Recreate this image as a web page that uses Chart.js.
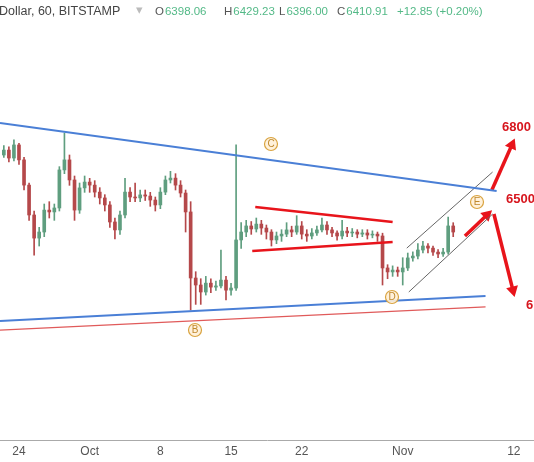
<!DOCTYPE html>
<html>
<head>
<meta charset="utf-8">
<script src="https://cdn.jsdelivr.net/npm/chart.js@4"></script>
<style>
  html, body { margin: 0; padding: 0; background: #fff; }
  #wrap { width: 534px; height: 462px; }
</style>
</head>
<body>
<div id="wrap"><canvas id="c" width="534" height="462"></canvas></div>
<script>
// --- Data (hourly candles sampled every half day, day 0 = Sep 24) ---
const firstDay = -1.5;
const stepDays = 0.5;
const firstOpen = 6680;
const closes = [6701, 6667, 6723, 6659, 6551, 6423, 6324, 6350, 6444, 6436,
  6453, 6616, 6659, 6573, 6444, 6539, 6564, 6551, 6521, 6496,
  6466, 6393, 6359, 6423, 6521, 6500, 6496, 6509, 6504, 6487,
  6466, 6521, 6573, 6581, 6551, 6517, 6436, 6153, 6123, 6093,
  6131, 6114, 6119, 6144, 6101, 6110, 6316, 6350, 6376, 6363,
  6384, 6367, 6350, 6316, 6333, 6341, 6359, 6350, 6376, 6341,
  6333, 6346, 6359, 6380, 6359, 6346, 6333, 6354, 6346, 6350,
  6341, 6346, 6337, 6341, 6333, 6196, 6179, 6187, 6179, 6196,
  6239, 6247, 6273, 6290, 6281, 6264, 6256, 6264, 6376, 6350];
const highs = [6720, 6715, 6745, 6730, 6670, 6560, 6440, 6370, 6470, 6480,
  6470, 6630, 6774, 6680, 6590, 6560, 6590, 6580, 6570, 6540,
  6510, 6480, 6410, 6440, 6580, 6540, 6560, 6530, 6530, 6520,
  6500, 6540, 6590, 6610, 6600, 6570, 6530, 6480, 6180, 6150,
  6160, 6150, 6140, 6273, 6160, 6130, 6723, 6390, 6400, 6395,
  6410, 6400, 6380, 6360, 6350, 6360, 6390, 6375, 6420, 6395,
  6360, 6365, 6375, 6410, 6395, 6370, 6355, 6400, 6370, 6365,
  6360, 6360, 6360, 6355, 6350, 6345, 6210, 6205, 6200, 6240,
  6260, 6265, 6300, 6310, 6300, 6290, 6275, 6280, 6414, 6390];
const lows = [6670, 6650, 6655, 6640, 6530, 6400, 6251, 6290, 6330, 6410,
  6400, 6440, 6600, 6550, 6400, 6430, 6520, 6520, 6500, 6470,
  6440, 6370, 6320, 6340, 6410, 6480, 6480, 6480, 6485, 6460,
  6440, 6450, 6510, 6560, 6530, 6500, 6350, 6016, 6040, 6040,
  6080, 6090, 6100, 6110, 6059, 6080, 6100, 6280, 6330, 6340,
  6350, 6340, 6320, 6290, 6300, 6310, 6330, 6330, 6340, 6320,
  6310, 6320, 6335, 6350, 6340, 6330, 6315, 6320, 6330, 6330,
  6325, 6330, 6320, 6325, 6310, 6123, 6150, 6160, 6160, 6123,
  6185, 6225, 6235, 6260, 6260, 6250, 6240, 6245, 6255, 6330];

// x tick positions (days from Sep 24) and labels
const tickDays = [0, 7, 14, 21, 28, 38, 49];
const tickLabels = ['24', 'Oct', '8', '15', '22', 'Nov', '12'];

// drawn trend lines: [day, price] pairs
const upperBlue = [[-1.88, 6817], [47.3, 6526]];
const lowerBlue = [[-1.88, 5969], [46.2, 6076]];
const lowerRed = [[-1.88, 5930], [46.2, 6029]];
const triTop = [[23.4, 6457], [37.0, 6393]];
const triBottom = [[23.1, 6269], [37.0, 6307]];
const chanTop = [[38.4, 6281], [46.9, 6607]];
const chanBottom = [[38.6, 6093], [46.9, 6427]];
const arrowShort = [[44.16, 6333], [46.34, 6423]];
const arrowUp = [[46.83, 6530], [48.81, 6723]];
const arrowDown = [[47.03, 6427], [48.91, 6101]];

const UP = '#5f9e7f', DOWN = '#b5484a';

const bodies = [], wicks = [], colors = [];
closes.forEach((c, i) => {
    const o = i === 0 ? firstOpen : closes[i - 1];
    const x = firstDay + i * stepDays;
    bodies.push({ x, y: [o, c === o ? c + 2 : c] });
    wicks.push({ x, y: [lows[i], highs[i]] });
    colors.push(c >= o ? UP : DOWN);
});

const pts = arr => arr.map(p => ({ x: p[0], y: p[1] }));
function seg(arr, color, width) {
    return { type: 'line', data: pts(arr), borderColor: color, borderWidth: width, pointRadius: 0, fill: false, order: 0 };
}
function arrow(arr, rot) {
    return { type: 'line', data: pts(arr), borderColor: '#e8141b', backgroundColor: '#e8141b', borderWidth: 3.5,
        pointRadius: [0, 7], pointStyle: 'triangle', rotation: rot, pointBorderWidth: 0, fill: false, order: 0 };
}

const FONT = '"Liberation Sans", Arial, sans-serif';
const overlay = {
    id: 'overlay',
    afterDraw(ch) {
        const g = ch.ctx;
        g.save();
        g.textBaseline = 'middle';
        g.font = '12.5px ' + FONT;
        g.fillStyle = '#444';
        g.fillText('Dollar, 60, BITSTAMP', -1, 12);
        g.fillStyle = '#bbb';
        g.fillText('▾', 136, 11);
        g.font = '11.5px ' + FONT;
        const parts = [['O', '6398.06', 155], ['H', '6429.23', 224], ['L', '6396.00', 279], ['C', '6410.91', 337]];
        parts.forEach(([k, v, x]) => {
            g.fillStyle = '#555';
            g.fillText(k, x, 12);
            g.fillStyle = '#53b987';
            g.fillText(v, x + g.measureText(k).width + 1, 12);
        });
        g.fillText('+12.85 (+0.20%)', 397, 12);

        // x tick labels
        const sx = ch.scales.x;
        g.textAlign = 'center';
        g.fillStyle = '#555';
        g.font = '12px ' + FONT;
        tickDays.forEach((d, i) => g.fillText(tickLabels[i], sx.getPixelForValue(d), 452));

        g.textAlign = 'left';
        g.font = 'bold 13px ' + FONT;
        g.fillStyle = '#d7161e';
        g.fillText('6800', 502, 127);
        g.fillText('6500', 506, 199);
        g.fillText('6', 526, 305);

        const circ = [['C', 271, 144], ['B', 195, 330], ['D', 392, 297], ['E', 477, 202]];
        g.textAlign = 'center';
        g.font = '10px ' + FONT;
        circ.forEach(([t, x, y]) => {
            g.beginPath();
            g.arc(x, y, 6.5, 0, Math.PI * 2);
            g.fillStyle = 'rgba(255,240,215,0.9)';
            g.fill();
            g.strokeStyle = '#d9a441';
            g.lineWidth = 1.2;
            g.stroke();
            g.fillStyle = '#c08a2e';
            g.fillText(t, x, y + 0.5);
        });
        g.restore();
    }
};

new Chart(document.getElementById('c'), {
    type: 'bar',
    data: {
        datasets: [
            seg(upperBlue, '#4a7fd6', 2),
            seg(lowerBlue, '#4a7fd6', 2),
            seg(lowerRed, '#e05a5a', 1.3),
            seg(triTop, '#e8141b', 2.5),
            seg(triBottom, '#e8141b', 2.5),
            seg(chanTop, '#666', 1),
            seg(chanBottom, '#666', 1),
            arrow(arrowShort, 47),
            arrow(arrowUp, 24),
            arrow(arrowDown, 166),
            { data: wicks, backgroundColor: colors, barThickness: 1, grouped: false, order: 2 },
            { data: bodies, backgroundColor: colors, barThickness: 3, grouped: false, order: 1 },
        ]
    },
    options: {
        responsive: false,
        animation: false,
        layout: { padding: 0, autoPadding: false },
        plugins: { legend: { display: false }, tooltip: { enabled: false } },
        scales: {
            x: {
                type: 'linear', min: -1.88, max: 51, offset: false,
                afterBuildTicks: s => { s.ticks = tickDays.map(v => ({ value: v })); },
                afterFit: s => { s.height = 22; },
                grid: { display: false, drawTicks: true, tickLength: 3, tickColor: '#888' },
                border: { color: '#aaa', width: 1 },
                ticks: { display: false }
            },
            y: { display: false, min: 5459, max: 7344 }
        }
    },
    plugins: [overlay]
});
</script>
</body>
</html>
